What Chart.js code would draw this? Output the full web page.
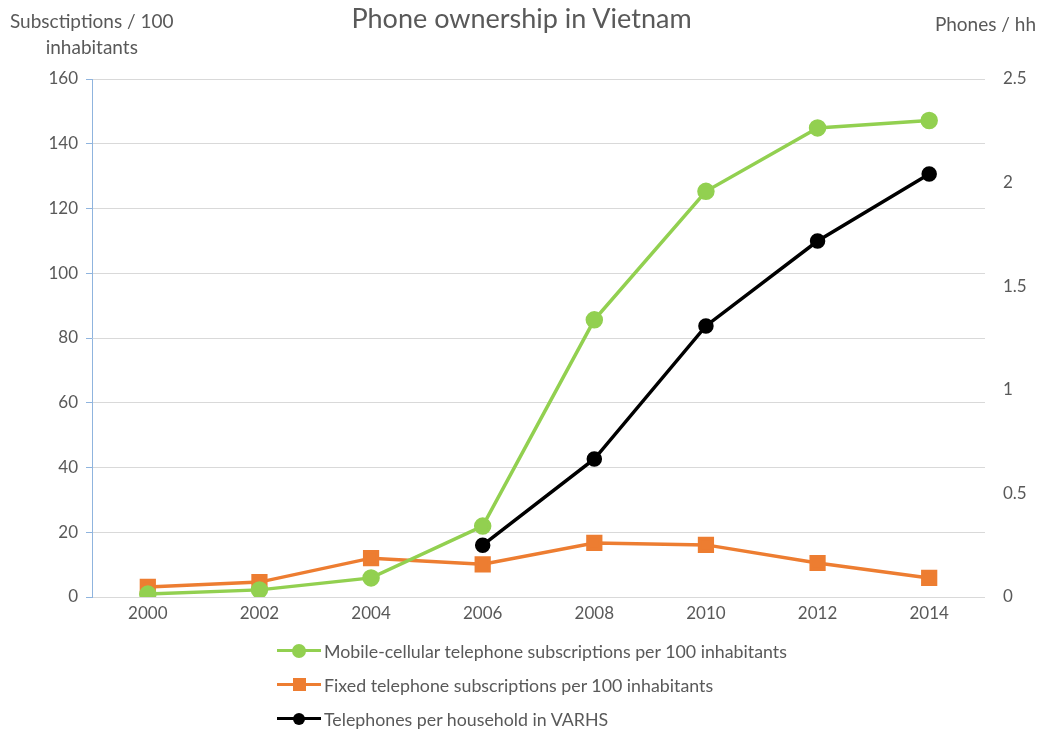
<!DOCTYPE html>
<html>
<head>
<meta charset="utf-8">
<script src="https://cdn.jsdelivr.net/npm/chart.js@4/dist/chart.umd.min.js"></script>
<style>
  body { margin: 0; background: #fff; font-family: Lato, "Noto Sans", sans-serif; color: #595959; }
  #wrap { position: relative; width: 1043px; height: 733px; }
  .ttl { position: absolute; white-space: nowrap; }
  #title { left: 0; width: 1043px; top: 1px; text-align: center; font-size: 27px; }
  #lefttitle { left: 10px; top: 8px; font-size: 19px; line-height: 26px; text-align: center; }
  #righttitle { right: 7px; top: 12px; font-size: 19px; }
  #legend { position: absolute; left: 277px; top: 638px; font-size: 17.8px; }
  .item { height: 26px; display: flex; align-items: center; margin-bottom: 8px; }
  .icon { position: relative; width: 44px; height: 14px; margin-right: 3px; }
  .icon .ln { position: absolute; left: 0; right: 0; top: 5px; height: 3px; }
  .icon .mk { position: absolute; }
</style>
</head>
<body>
<div id="wrap">
  <canvas id="chart" width="1043" height="733"></canvas>
  <div id="title" class="ttl">Phone ownership in Vietnam</div>
  <div id="lefttitle" class="ttl">Subsctiptions / 100<br>inhabitants</div>
  <div id="righttitle" class="ttl">Phones / hh</div>
  <div id="legend"></div>
</div>
<script>
// 年份
const years = ['2000', '2002', '2004', '2006', '2008', '2010', '2012', '2014'];

// 每百人行動電話訂閱數
const mobileSubs = [0.9, 2.2, 5.9, 21.9, 85.6, 125.3, 144.9, 147.2];
// 每百人固網電話訂閱數
const fixedSubs = [3.1, 4.6, 12.0, 10.1, 16.7, 16.1, 10.5, 5.9];
// VARHS 每戶電話數 (右軸)
const phonesPerHH = [null, null, null, 0.25, 0.666, 1.308, 1.718, 2.041];

const legendLabels = [
    'Mobile-cellular telephone subscriptions per 100 inhabitants',
    'Fixed telephone subscriptions per 100 inhabitants',
    'Telephones per household in VARHS'
];

const green = '#92D050';
const orange = '#ED7D31';
const black = '#000000';
const textGray = '#595959';
const tickFont = { family: 'Lato, "Noto Sans", sans-serif', size: 17 };

new Chart(document.getElementById('chart'), {
    type: 'line',
    data: {
        labels: years,
        datasets: [
            {
                label: legendLabels[0],
                data: mobileSubs,
                yAxisID: 'y',
                borderColor: green,
                backgroundColor: green,
                borderWidth: 3.5,
                pointStyle: 'circle',
                pointRadius: 7,
                pointHoverRadius: 7
            },
            {
                label: legendLabels[1],
                data: fixedSubs,
                yAxisID: 'y',
                borderColor: orange,
                backgroundColor: orange,
                borderWidth: 3.5,
                pointStyle: 'rect',
                pointRadius: 9,
                pointHoverRadius: 9
            },
            {
                label: legendLabels[2],
                data: phonesPerHH,
                yAxisID: 'y1',
                borderColor: black,
                backgroundColor: black,
                borderWidth: 3.5,
                pointStyle: 'circle',
                pointRadius: 6,
                pointHoverRadius: 6
            }
        ]
    },
    options: {
        responsive: false,
        animation: false,
        layout: { padding: { top: 79, bottom: 96, left: 0, right: 0 } },
        plugins: {
            legend: { display: false },
            title: { display: false },
            tooltip: { enabled: false }
        },
        scales: {
            x: {
                offset: true,
                grid: { display: false, drawTicks: false },
                border: { display: false },
                ticks: { color: textGray, font: tickFont, padding: 6 },
                afterFit: (s) => { s.height = 40; }
            },
            y: {
                position: 'left',
                min: 0,
                max: 160,
                ticks: { stepSize: 20, color: textGray, font: tickFont, padding: 8 },
                grid: { color: '#D9D9D9', lineWidth: 1, tickLength: 6, tickColor: '#8FB4DE' },
                border: { display: true, color: '#8FB4DE', width: 1 },
                afterFit: (s) => { s.width = 92; }
            },
            y1: {
                position: 'right',
                min: 0,
                max: 2.5,
                ticks: {
                    stepSize: 0.5,
                    color: textGray,
                    font: tickFont,
                    padding: 18,
                    callback: (v) => String(v)
                },
                grid: { drawOnChartArea: false, drawTicks: false },
                border: { display: false },
                afterFit: (s) => { s.width = 58; }
            }
        }
    }
});

// 自訂圖例（垂直排列）
const legendEl = document.getElementById('legend');
const markers = [
    { color: green, w: 14, h: 14, round: true },
    { color: orange, w: 13, h: 13, round: false },
    { color: black, w: 12, h: 12, round: true }
];
legendLabels.forEach((text, i) => {
    const m = markers[i];
    const item = document.createElement('div');
    item.className = 'item';
    item.innerHTML = `
        <div class="icon">
            <div class="ln" style="background:${m.color}"></div>
            <div class="mk" style="background:${m.color};width:${m.w}px;height:${m.h}px;left:${22 - m.w / 2}px;top:${6.5 - m.h / 2}px;border-radius:${m.round ? '50%' : '0'}"></div>
        </div>
        <span>${text}</span>`;
    legendEl.appendChild(item);
});
</script>
</body>
</html>
